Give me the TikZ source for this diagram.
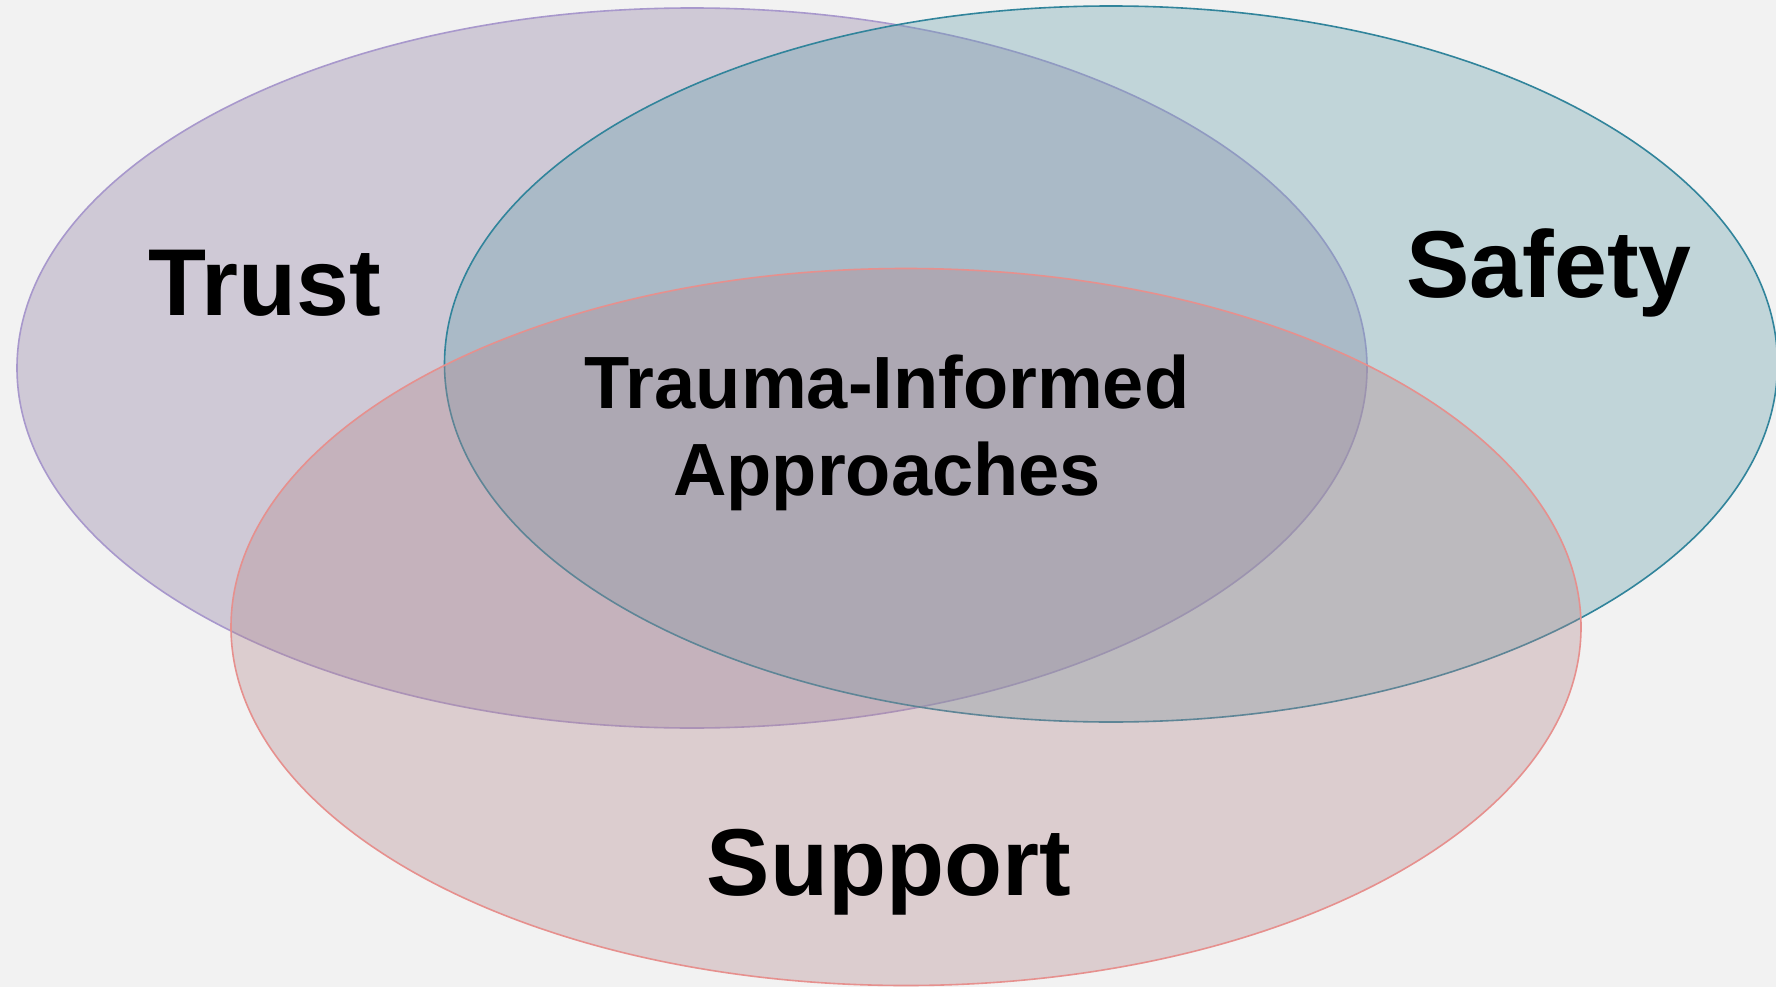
\documentclass[tikz,border=0pt]{standalone}
\usepackage{fontspec}
\setmainfont{Liberation Sans}
\usetikzlibrary{shapes.geometric}
\definecolor{bgc}{RGB}{242,242,242}
\definecolor{trustfill}{RGB}{142,125,162}
\definecolor{safetyfill}{RGB}{102,159,173}
\definecolor{supportfill}{RGB}{179,136,142}
\definecolor{trustline}{RGB}{168,152,204}
\definecolor{safetyline}{RGB}{49,132,155}
\definecolor{supportline}{RGB}{230,144,142}
\tikzset{
  venn/.style={ellipse, inner sep=0pt, line width=1.6pt, fill opacity=0.35, draw opacity=1},
  biglabel/.style={anchor=base, inner sep=0pt, font=\fontsize{95}{114}\selectfont\bfseries},
  midlabel/.style={anchor=base, inner sep=0pt, font=\fontsize{74}{87}\selectfont\bfseries}
}
\begin{document}
\begin{tikzpicture}[x=1pt,y=-1pt]
\fill[bgc] (0,0) rectangle (1776,987);
\useasboundingbox (0,0) rectangle (1776,987);
\node[venn, draw=trustline, fill=trustfill, minimum width=1350pt, minimum height=720pt] (trust) at (692,368) {};
\node[venn, draw=safetyline, fill=safetyfill, minimum width=1333pt, minimum height=716pt] (safety) at (1111,364) {};
\node[venn, draw=supportline, fill=supportfill, minimum width=1350pt, minimum height=717pt] (support) at (906,627) {};
\node[biglabel] (ttrust) at (265,315) {Trust};
\node[biglabel] (tsafety) at (1549,297) {Safety};
\node[biglabel] (tsupport) at (889,895) {Support};
\node[midlabel] (tcenter1) at (887,408) {Trauma-Informed};
\node[midlabel] (tcenter2) at (887,495) {Approaches};
\end{tikzpicture}
\end{document}
